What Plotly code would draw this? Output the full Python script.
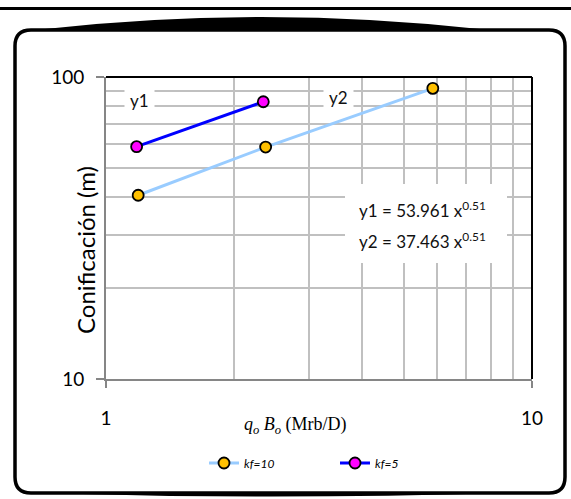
import plotly.graph_objects as go

# ---- data ----
kf10_x = [1.19, 2.37, 5.85]
kf10_y = [40.6, 58.6, 91.7]
kf5_x = [1.18, 2.34]
kf5_y = [58.8, 82.8]
x_major = [1, 10]
x_minor = [2, 3, 4, 5, 6, 7, 8, 9]
y_major = [10, 100]
y_minor = [20, 30, 40, 50, 60, 70, 80, 90]
eq1 = "y1 = 53.961 x<sup>0.51</sup>"
eq2 = "y2 = 37.463 x<sup>0.51</sup>"

W, H = 571, 499
L, R, T, B = 106, 532, 77, 379


def px(x):
    return (x - L) / (R - L)


def py(y):
    return (B - y) / (B - T)


fig = go.Figure()
fig.add_trace(go.Scatter(
    x=kf10_x, y=kf10_y, mode="lines+markers", name="<i>kf=10</i>",
    line=dict(color="#99CCFF", width=3),
    marker=dict(color="#FFC000", size=11, line=dict(color="black", width=1.8)),
))
fig.add_trace(go.Scatter(
    x=kf5_x, y=kf5_y, mode="lines+markers", name="<i>kf=5</i>",
    line=dict(color="#0000FF", width=3),
    marker=dict(color="#FF00FF", size=11, line=dict(color="black", width=1.8)),
))

grid = "#C0C0C0"
axisgray = "#868686"
tickfont = dict(family="Lato, Liberation Sans, sans-serif", size=19, color="black")

fig.update_xaxes(
    type="log", range=[0, 1],
    tickmode="array", tickvals=x_major, ticktext=["1", "10"],
    ticks="outside", ticklen=7, tickwidth=2, tickcolor=axisgray,
    ticklabelstandoff=14,
    showgrid=True, gridcolor=grid, gridwidth=2,
    minor=dict(tickmode="array", tickvals=x_minor, showgrid=True,
               gridcolor=grid, gridwidth=2, ticks=""),
    showline=True, linecolor=axisgray, linewidth=2,
    tickfont=tickfont, zeroline=False,
)
fig.update_yaxes(
    type="log", range=[1, 2],
    tickmode="array", tickvals=y_major, ticktext=["10", "100"],
    ticks="outside", ticklen=8, tickwidth=2, tickcolor=axisgray,
    ticklabelstandoff=8,
    showgrid=True, gridcolor=grid, gridwidth=2,
    minor=dict(tickmode="array", tickvals=y_minor, showgrid=True,
               gridcolor=grid, gridwidth=2, ticks=""),
    showline=True, linecolor=axisgray, linewidth=2,
    tickfont=tickfont, zeroline=False,
)

shapes = []
# plot-area top and right border (black)
shapes.append(dict(type="line", xref="paper", yref="paper", x0=0, x1=1, y0=1, y1=1,
                   line=dict(color="black", width=2), layer="above"))
shapes.append(dict(type="line", xref="paper", yref="paper", x0=1, x1=1, y0=0, y1=1,
                   line=dict(color="black", width=2), layer="above"))
# equation box (white)
shapes.append(dict(type="rect", xref="paper", yref="paper",
                   x0=px(345), x1=px(507), y0=py(263), y1=py(184),
                   fillcolor="white", line=dict(width=0), layer="above"))
# top horizontal rule
shapes.append(dict(type="line", xref="paper", yref="paper", x0=px(0), x1=px(571),
                   y0=py(8.5), y1=py(8.5), line=dict(color="black", width=3)))
# rounded outer frame
x0, x1, y0, y1, r = 15, 565, 30, 493, 16
path = (f"M {px(x0 + r)},{py(y0)} L {px(x1 - r)},{py(y0)} "
        f"Q {px(x1)},{py(y0)} {px(x1)},{py(y0 + r)} "
        f"L {px(x1)},{py(y1 - r)} Q {px(x1)},{py(y1)} {px(x1 - r)},{py(y1)} "
        f"L {px(x0 + r)},{py(y1)} Q {px(x0)},{py(y1)} {px(x0)},{py(y1 - r)} "
        f"L {px(x0)},{py(y0 + r)} Q {px(x0)},{py(y0)} {px(x0 + r)},{py(y0)} Z")
shapes.append(dict(type="path", xref="paper", yref="paper", path=path,
                   line=dict(color="black", width=3.5)))
# top bulge
shapes.append(dict(type="path", xref="paper", yref="paper",
                   path=f"M {px(35)},{py(30)} Q {px(260)},{py(4)} {px(490)},{py(30)} Z",
                   fillcolor="black", line=dict(width=0)))
# bottom bulge
shapes.append(dict(type="path", xref="paper", yref="paper",
                   path=f"M {px(40)},{py(493)} Q {px(270)},{py(500)} {px(505)},{py(493)} Z",
                   fillcolor="black", line=dict(width=0)))

annos = []
lblfont = dict(family="Lato, Liberation Sans, sans-serif", size=17, color="#111111")
annos.append(dict(text="y1", xref="paper", yref="paper", x=px(139), y=py(101),
                  showarrow=False, font=lblfont, bgcolor="white", borderpad=5,
                  xanchor="center", yanchor="middle"))
annos.append(dict(text="y2", xref="paper", yref="paper", x=px(338), y=py(97),
                  showarrow=False, font=lblfont, bgcolor="white", borderpad=5,
                  xanchor="center", yanchor="middle"))
annos.append(dict(text=eq1, xref="paper", yref="paper", x=px(357), y=py(209),
                  showarrow=False, font=lblfont, xanchor="left", yanchor="middle"))
annos.append(dict(text=eq2, xref="paper", yref="paper", x=px(357), y=py(240),
                  showarrow=False, font=lblfont, xanchor="left", yanchor="middle"))
annos.append(dict(text="Conificación (m)", xref="paper", yref="paper",
                  x=px(86), y=py(250), textangle=-90, showarrow=False,
                  font=dict(family="Lato, Liberation Sans, sans-serif", size=24, color="black"),
                  xanchor="center", yanchor="middle"))
annos.append(dict(text="<i>q</i><sub><i>o</i></sub> <i>B</i><sub><i>o</i></sub> (Mrb/D)",
                  xref="paper", yref="paper", x=px(295), y=py(425),
                  showarrow=False,
                  font=dict(family="Liberation Serif, serif", size=18, color="black"),
                  xanchor="center", yanchor="middle"))

fig.update_layout(
    width=W, height=H,
    margin=dict(l=L, r=W - R, t=T, b=H - B),
    paper_bgcolor="white", plot_bgcolor="white",
    shapes=shapes, annotations=annos,
    showlegend=True,
    legend=dict(orientation="h", x=px(204), y=py(463), xanchor="left", yanchor="middle",
                font=dict(family="Lato, Liberation Sans, sans-serif", size=12, color="black"),
                entrywidth=86, entrywidthmode="pixels", bgcolor="rgba(0,0,0,0)",
                itemwidth=30),
)

fig.write_html("out.html", config={"displayModeBar": False},
               post_script="document.body.style.margin='0';document.body.style.overflow='hidden';")
